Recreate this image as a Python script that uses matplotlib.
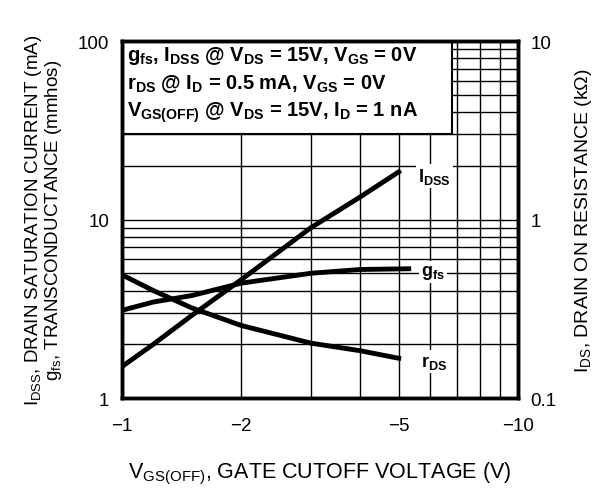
import matplotlib
matplotlib.use("Agg")
import matplotlib.pyplot as plt
import numpy as np
from matplotlib.patches import Rectangle
from matplotlib.ticker import FixedLocator, FixedFormatter, NullFormatter

plt.rcParams['font.family'] = ['Liberation Sans', 'DejaVu Sans']
plt.rcParams['mathtext.default'] = 'regular'

# data
vgs_off = np.array([-1.0, -1.2, -1.5, -2.0, -3.0, -4.0, -5.0])
idss = np.array([1.5, 2.0, 2.9, 4.6, 9.0, 13.4, 18.5])          # mA
vgs_gfs = np.array([-1.0, -1.2, -1.5, -2.0, -3.0, -4.0, -5.3])
gfs = np.array([3.1, 3.45, 3.75, 4.4, 5.0, 5.25, 5.3])           # mmhos
rds = np.array([0.49, 0.40, 0.32, 0.255, 0.203, 0.184, 0.167])   # kOhm

x_ticks = [-1, -2, -5, -10]
x_labels = ['\u22121', '\u22122', '\u22125', '\u221210']

fig = plt.figure(figsize=(6.12, 4.89), dpi=100)
ax = fig.add_axes([0.1993, 0.184, 0.647, 0.730])
ax.set_xscale('log')
ax.set_yscale('log')
ax.set_xlim(1, 10)
ax.set_ylim(1, 100)

ax.grid(which='both', color='black', lw=1.0)
ax.xaxis.set_major_locator(FixedLocator([abs(t) for t in x_ticks]))
ax.xaxis.set_major_formatter(FixedFormatter(x_labels))
ax.xaxis.set_minor_formatter(NullFormatter())
ax.set_yticks([1, 10, 100])
ax.set_yticklabels(['1', '10', '100'])
ax.yaxis.set_minor_formatter(NullFormatter())
ax.tick_params(which='both', length=0, labelsize=13.5, pad=9)
ax.tick_params(axis='x', pad=14)
for s in ax.spines.values():
    s.set_linewidth(2.5)

# condition box
ax.add_patch(Rectangle((1, 30), 5.8, 70, facecolor='white', edgecolor='black',
                       lw=1.5, zorder=2))
box_lines = [
    r'$g_{fs}$, $I_{DSS}$ @ $V_{DS}$ = 15V, $V_{GS}$ = 0V',
    r'$r_{DS}$ @ $I_{D}$ = 0.5 mA, $V_{GS}$ = 0V',
    r'$V_{GS(OFF)}$ @ $V_{DS}$ = 15V, $I_{D}$ = 1 nA',
]
for i, t in enumerate(box_lines):
    ax.text(0.012, 0.962 - i * 0.08, t, transform=ax.transAxes, fontsize=14.5,
            fontweight='bold', ha='left', va='center', zorder=4)

ax.plot(np.abs(vgs_off), idss, color='black', lw=3.5, zorder=3)
ax.plot(np.abs(vgs_gfs), gfs, color='black', lw=3.5, zorder=3)

ax2 = ax.twinx()
ax2.set_yscale('log')
ax2.set_ylim(0.1, 10)
ax2.set_yticks([0.1, 1, 10])
ax2.set_yticklabels(['0.1', '1', '10'])
ax2.yaxis.set_minor_formatter(NullFormatter())
ax2.tick_params(which='both', length=0, labelsize=13.5, pad=9)
for s in ax2.spines.values():
    s.set_linewidth(2.5)
ax2.plot(np.abs(vgs_off), rds, color='black', lw=3.5, zorder=3)

lbl = dict(fontsize=13, fontweight='bold', ha='left', va='center',
           bbox=dict(facecolor='white', edgecolor='none', pad=1.5), zorder=5)
ax.text(5.6, 17.5, r'$I_{DSS}$', **lbl)
ax.text(5.7, 5.1, r'$g_{fs}$', **lbl)
ax2.text(5.7, 0.16, r'$r_{DS}$', **lbl)

ax.set_xlabel(r'$V_{GS(OFF)}$, GATE CUTOFF VOLTAGE (V)', fontsize=15.5, labelpad=18)
ax.set_ylabel(r'$I_{DSS}$, DRAIN SATURATION CURRENT (mA)' + '\n' +
              r'$g_{fs}$, TRANSCONDUCTANCE (mmhos)', fontsize=13.5,
              labelpad=10, linespacing=0.95)
ax2.set_ylabel(r'$I_{DS}$, DRAIN ON RESISTANCE (k$\Omega$)', fontsize=14, labelpad=12)

fig.savefig('out.png', dpi=100)
